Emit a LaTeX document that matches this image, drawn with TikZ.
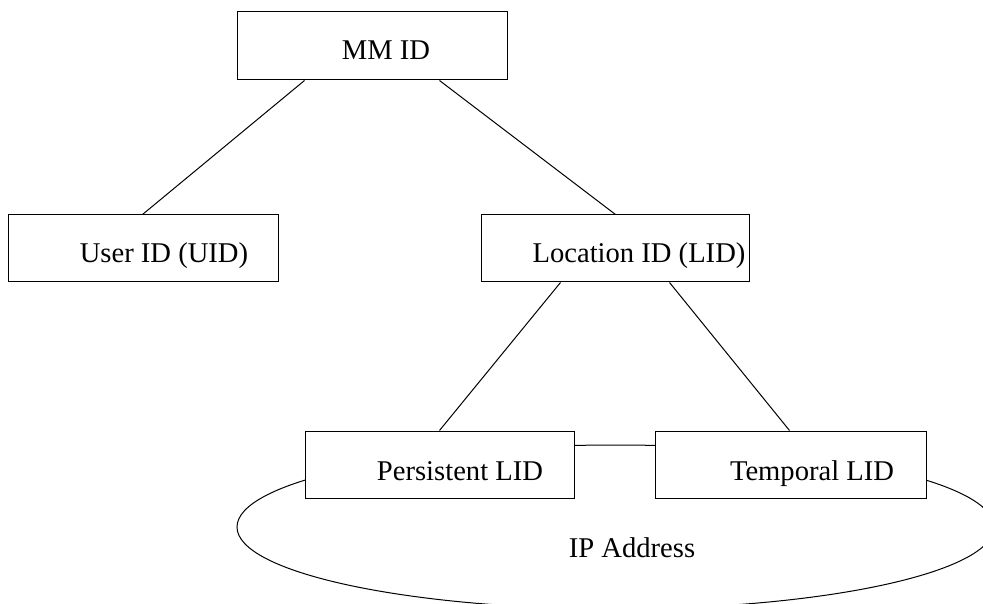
\documentclass[tikz,border=0pt]{standalone}
\usepackage{fontspec}
\setmainfont{Liberation Serif}
\begin{document}
\begin{tikzpicture}[x=1pt,y=-1pt,
  box/.style={draw=black, fill=white, line width=1pt, inner sep=0pt},
  lbl/.style={anchor=base, inner sep=0pt, font=\fontsize{28.6}{32}\selectfont},
  link/.style={draw=black, line width=1pt}]
\useasboundingbox (0,0) rectangle (983,604);
% IP address ellipse (behind the boxes)
\begin{scope}
  \clip (0,0) rectangle (983,604);
  \draw[line width=1pt] (615.5,527) ellipse [x radius=378.5pt, y radius=82pt];
\end{scope}
\node[lbl] (ipt) at (632,557) {IP Address};
% boxes
\node[box, minimum width=270pt, minimum height=68pt] (mm) at (372,46) {};
\node[box, minimum width=270pt, minimum height=67pt] (uid) at (143,248.5) {};
\node[box, minimum width=268pt, minimum height=67pt] (lid) at (615,248.5) {};
\node[box, minimum width=269pt, minimum height=67pt] (plid) at (439.5,464.5) {};
\node[box, minimum width=271pt, minimum height=67pt] (tlid) at (790.5,464.5) {};
% texts
\node[lbl] (mmt) at (386,60) {MM ID};
\node[lbl] (uidt) at (164,263) {User ID (UID)};
\node[lbl] (lidt) at (639,263) {Location ID (LID)};
\node[lbl] (plidt) at (460,480) {Persistent LID};
\node[lbl] (tlidt) at (812,480) {Temporal LID};
% connectors
\draw[link] ([xshift=68pt]mm.south west) -- ([xshift=135pt]uid.north west);
\draw[link] ([xshift=203pt]mm.south west) -- ([xshift=135pt]lid.north west);
\draw[link] ([xshift=80pt]lid.south west) -- ([xshift=135pt]plid.north west);
\draw[link] ([xshift=189pt]lid.south west) -- ([xshift=135pt]tlid.north west);
\end{tikzpicture}
\end{document}
